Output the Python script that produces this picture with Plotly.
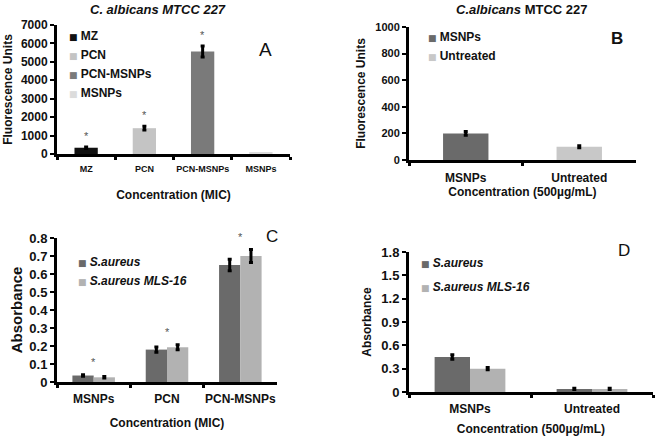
import plotly.graph_objects as go

W, H = 656, 436
FONT = "Liberation Sans"

# ---------------- data ----------------
a_cats = ["MZ", "PCN", "PCN-MSNPs", "MSNPs"]
a_vals = [340, 1400, 5560, 70]
a_errs = [45, 100, 300, 0]
a_colors = ["#111111", "#c4c4c4", "#7a7a7a", "#dcdcdc"]
a_star = [True, True, True, False]
a_yticks = [0, 1000, 2000, 3000, 4000, 5000, 6000, 7000]

b_cats = ["MSNPs", "Untreated"]
b_vals = [200, 100]
b_errs = [14, 8]
b_colors = ["#6a6a6a", "#c8c8c8"]
b_yticks = [0, 200, 400, 600, 800, 1000]

c_cats = ["MSNPs", "PCN", "PCN-MSNPs"]
c_series = ["S.aureus", "S.aureus MLS-16"]
c_vals_sa = [0.036, 0.18, 0.65]
c_errs_sa = [0.004, 0.015, 0.032]
c_vals_mls = [0.026, 0.193, 0.70]
c_errs_mls = [0.004, 0.014, 0.036]
c_yticks = [0, 0.1, 0.2, 0.3, 0.4, 0.5, 0.6, 0.7, 0.8]

d_cats = ["MSNPs", "Untreated"]
d_vals_sa = [0.45, 0.04]
d_errs_sa = [0.03, 0.008]
d_vals_mls = [0.30, 0.04]
d_errs_mls = [0.015, 0.008]
d_yticks = [0, 0.3, 0.6, 0.9, 1.2, 1.5, 1.8]

sa_color = "#6a6a6a"
mls_color = "#b2b2b2"


def px_dom_x(a, b):
    return [a / W, b / W]


def px_dom_y(top, bottom):
    return [1 - bottom / H, 1 - top / H]


def leg_name(name, col):
    return ('<span style="color:%s;font-family:DejaVu Sans;font-size:9px">■ </span>%s'
            % (col, name))


fig = go.Figure()
annotations = []

# ---------------- panel A ----------------
for cat, v, e, col in zip(a_cats, a_vals, a_errs, a_colors):
    fig.add_trace(go.Bar(
        x=[cat], y=[v], width=0.4, offset=-0.2, marker_color=col,
        marker_line_width=0, showlegend=False,
        error_y=dict(type="data", array=[e], visible=e > 0, color="black",
                     thickness=3, width=2),
        xaxis="x", yaxis="y"))
    fig.add_trace(go.Scatter(
        x=[None], y=[None], mode="markers", name=leg_name(cat, col),
        marker=dict(size=1, color="rgba(0,0,0,0)"),
        legend="legend", xaxis="x", yaxis="y"))
for cat, v, e, s in zip(a_cats, a_vals, a_errs, a_star):
    if s:
        annotations.append(dict(x=cat, y=v + e, xref="x", yref="y", yanchor="bottom",
                                yshift=3, text="*", showarrow=False,
                                font=dict(family=FONT, size=11, color="#555")))

# ---------------- panel B ----------------
for cat, v, e, col in zip(b_cats, b_vals, b_errs, b_colors):
    fig.add_trace(go.Bar(
        x=[cat], y=[v], width=0.4, offset=-0.2, marker_color=col,
        marker_line_width=0, showlegend=False,
        error_y=dict(type="data", array=[e], color="black", thickness=3, width=2),
        xaxis="x2", yaxis="y2"))
    fig.add_trace(go.Scatter(
        x=[None], y=[None], mode="markers", name=leg_name(cat, col),
        marker=dict(size=1, color="rgba(0,0,0,0)"),
        legend="legend2", xaxis="x2", yaxis="y2"))

# ---------------- panel C ----------------
for name, vals, errs, col, off in [
        (c_series[0], c_vals_sa, c_errs_sa, sa_color, -0.29),
        (c_series[1], c_vals_mls, c_errs_mls, mls_color, 0.0)]:
    fig.add_trace(go.Bar(
        x=c_cats, y=vals, width=0.29, offset=off, marker_color=col,
        marker_line_width=0, showlegend=False,
        error_y=dict(type="data", array=errs, color="black", thickness=3, width=2),
        xaxis="x3", yaxis="y3"))
    fig.add_trace(go.Scatter(
        x=[None], y=[None], mode="markers", name=leg_name(name, col),
        marker=dict(size=1, color="rgba(0,0,0,0)"),
        legend="legend3", xaxis="x3", yaxis="y3"))
for cat, a, ea, b, eb in zip(c_cats, c_vals_sa, c_errs_sa, c_vals_mls, c_errs_mls):
    annotations.append(dict(x=cat, y=max(a + ea, b + eb), xref="x3", yref="y3",
                            yanchor="bottom", yshift=5, text="*", showarrow=False,
                            font=dict(family=FONT, size=11, color="#555")))

# ---------------- panel D ----------------
for i, (name, vals, errs, col, off) in enumerate([
        (c_series[0], d_vals_sa, d_errs_sa, sa_color, -0.29),
        (c_series[1], d_vals_mls, d_errs_mls, mls_color, 0.0)]):
    fig.add_trace(go.Bar(
        x=d_cats, y=vals, width=0.29, offset=off, marker_color=col,
        marker_line_width=0, showlegend=False,
        error_y=dict(type="data", array=errs, color="black", thickness=3, width=2),
        xaxis="x4", yaxis="y4"))
    fig.add_trace(go.Scatter(
        x=[None], y=[None], mode="markers", name=leg_name(name, col),
        legendgroup="d%d" % i,
        marker=dict(size=1, color="rgba(0,0,0,0)"),
        legend="legend4", xaxis="x4", yaxis="y4"))


# ---------------- axes ----------------
def xax(dom, cats, tsize, anchor, title, tstand, lstand):
    return dict(domain=dom, anchor=anchor, type="category",
                categoryorder="array", categoryarray=cats,
                range=[-0.5, len(cats) - 0.5], tickangle=0,
                showline=True, linecolor="black", linewidth=3,
                ticks="outside", tickson="boundaries", ticklen=3, tickwidth=3,
                tickcolor="black", showgrid=False, zeroline=False,
                ticklabelstandoff=lstand,
                tickfont=dict(family=FONT, size=tsize, color="#111", weight="bold"),
                title=dict(text=title, standoff=tstand,
                           font=dict(family=FONT, size=12, color="#111", weight="bold")),
                automargin=False, fixedrange=True)


def yax(dom, ticks, tsize, anchor, title, title_size, tstand):
    return dict(domain=dom, anchor=anchor, range=[ticks[0], ticks[-1]],
                tickmode="array", tickvals=ticks,
                ticktext=[("%g" % t) for t in ticks],
                ticklabeloverflow="allow",
                showline=True, linecolor="black", linewidth=3,
                ticks="outside", ticklen=4, tickwidth=2, tickcolor="black",
                showgrid=False, zeroline=False,
                tickfont=dict(family=FONT, size=tsize, color="#111", weight="bold"),
                title=dict(text=title, standoff=tstand,
                           font=dict(family=FONT, size=title_size, color="#111",
                                     weight="bold")),
                automargin=False, fixedrange=True)


def legend_cfg(xpx, ypx, italic=False, **kw):
    f = dict(family=FONT, size=12, color="#111", weight="bold")
    if italic:
        f["style"] = "italic"
    d = dict(x=xpx / W, y=1 - ypx / H, xanchor="left", yanchor="top",
             bgcolor="rgba(0,0,0,0)", itemwidth=30, font=f)
    d.update(kw)
    return d


fig.update_layout(
    width=W, height=H, margin=dict(l=0, r=0, t=0, b=0, pad=0),
    paper_bgcolor="white", plot_bgcolor="white",
    barmode="group",
    xaxis=xax(px_dom_x(57, 290), a_cats, 9, "y", "Concentration (MIC)", 18, 4),
    yaxis=yax(px_dom_y(25, 154), a_yticks, 12, "x", "Fluorescence Units", 12, 6),
    xaxis2=xax(px_dom_x(409, 636), b_cats, 12, "y2", "Concentration (500µg/mL)", 3, 5),
    yaxis2=yax(px_dom_y(27, 160), b_yticks, 11, "x2", "Fluorescence Units", 12, 8),
    xaxis3=xax(px_dom_x(57, 277), c_cats, 12, "y3", "Concentration (MIC)", 14, 4),
    yaxis3=yax(px_dom_y(238, 382), c_yticks, 13, "x3", "Absorbance", 15, 4),
    xaxis4=xax(px_dom_x(409, 653), d_cats, 12, "y4", "Concentration (500µg/mL)", 10, 4),
    yaxis4=yax(px_dom_y(252, 392), d_yticks, 13, "x4", "Absorbance", 12, 8),
    legend=legend_cfg(29, 21),
    legend2=legend_cfg(388, 22),
    legend3=legend_cfg(38, 247, italic=True),
    legend4=legend_cfg(381, 248, italic=True, tracegroupgap=5, traceorder="grouped"),
)

labels = [
    dict(x=158 / W, y=1 - 9 / H, text="<b><i>C. albicans MTCC 227</i></b>",
         font=dict(size=13)),
    dict(x=522 / W, y=1 - 9 / H, text="<b><i>C.albicans</i> MTCC 227</b>",
         font=dict(size=13)),
    dict(x=265 / W, y=1 - 49 / H, text="A", font=dict(size=19)),
    dict(x=617 / W, y=1 - 38 / H, text="<b>B</b>", font=dict(size=17)),
    dict(x=272 / W, y=1 - 236 / H, text="C", font=dict(size=17)),
    dict(x=624 / W, y=1 - 250 / H, text="D", font=dict(size=17)),
]
for a in labels:
    a.update(xref="paper", yref="paper", xanchor="center", yanchor="middle",
             showarrow=False)
    a["font"].update(family=FONT, color="#111")
fig.update_layout(annotations=annotations + labels)

fig.write_html("out.html", config={"displayModeBar": False},
               post_script="document.body.style.margin='0';")
